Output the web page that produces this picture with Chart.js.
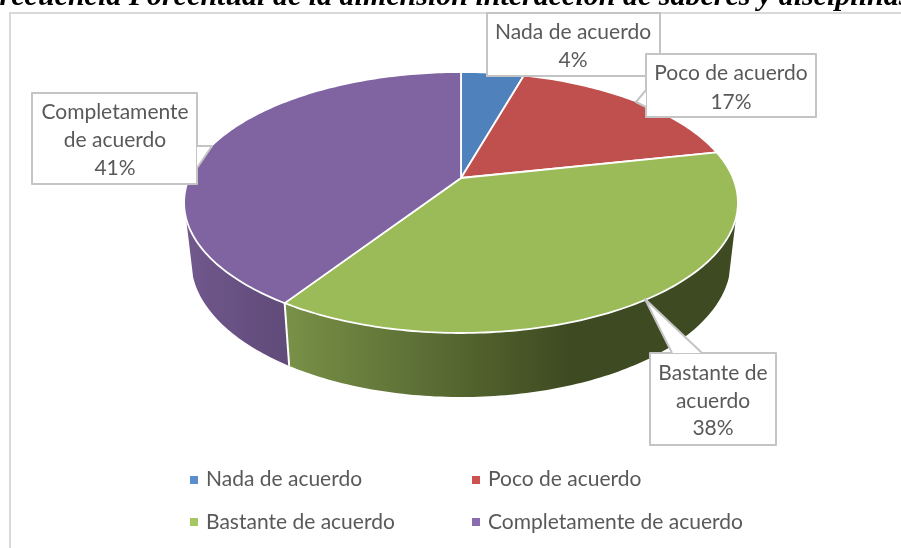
<!DOCTYPE html>
<html><head><meta charset="utf-8">
<style>html,body{margin:0;padding:0;background:#fff;overflow:hidden}#w{position:relative;width:901px;height:548px}canvas{display:block}</style>
<script src="https://cdn.jsdelivr.net/npm/chart.js@4"></script>
</head><body><div id="w"><canvas id="c" width="901" height="548"></canvas></div>
<script>
const titleText = "Frecuencia Porcentual de la dimensión interacción de saberes y disciplinas";
const categories = ["Nada de acuerdo","Poco de acuerdo","Bastante de acuerdo","Completamente de acuerdo"];
const percentages = [4.4,17.2,37.6,40.8];
const sliceColors = ["#4f81bd","#c0504d","#9bbb59","#8064a2"];
const legendColors = ["#5a8dcd","#cc5350","#a5c863","#8a6bb0"];
const calloutLines = [["Nada de acuerdo"],["Poco de acuerdo"],["Bastante de","acuerdo"],["Completamente","de acuerdo"]];

const INK="#595959", EDGE="#c4c4c4", FONT='"Lato","Open Sans",sans-serif';
const P={top:{k:272,a:125.9,cy:178},bot:{k:265,a:131.2,cy:235.5},c:-0.1877,front:0.3};
function proj(arc,ang,lvl){const u=Math.cos(ang),v=Math.sin(ang),d=1+P.c*v;
  return [arc.x+lvl.k*u/d, lvl.cy+lvl.a*v/d];}
function rim(ctx,arc,a0,a1,lvl,first){const n=Math.max(2,Math.ceil(Math.abs(a1-a0)*60));
  for(let i=0;i<=n;i++){const p=proj(arc,a0+(a1-a0)*i/n,lvl);
    (first&&i===0)?ctx.moveTo(p[0],p[1]):ctx.lineTo(p[0],p[1]);}}
const wallGrad={
  2:[292,570,[[0,"#778f46"],[1,"#3e4a21"]]],
  3:[190,292,[[0,"#70578c"],[1,"#5f4a78"]]]
};
const callouts=[
 {box:[487,13,173,63],cx:573,ys:[32,60]},
 {box:[646,54,170,63],cx:731,ys:[73,102],tail:[[646,90],[636,102],[646,107]]},
 {box:[650,353,126,92],cx:713,ys:[373,401,428],tail:[[672,353],[645,299],[702,353]]},
 {box:[32,93,165,91],cx:115,ys:[112,140,168],tail:[[197,146],[212,146],[197,168]]}
];
const pie3d={id:'pie3d',
 beforeDatasetsDraw(chart){
  const ctx=chart.ctx,arcs=chart.getDatasetMeta(0).data;
  ctx.save();
  ctx.strokeStyle="#d9d9d9";ctx.lineWidth=2;
  ctx.beginPath();ctx.moveTo(901,13);ctx.lineTo(10,13);ctx.lineTo(10,548);ctx.stroke();
  ctx.fillStyle="#000";ctx.font='italic bold 30px "Liberation Serif",serif';ctx.textAlign="center";ctx.textBaseline="alphabetic";
  ctx.fillText(titleText,445,5);
  const fa0=Math.asin(P.front),fa1=Math.PI-fa0;
  arcs.forEach((arc,i)=>{
    const a0=Math.max(arc.startAngle,fa0),a1=Math.min(arc.endAngle,fa1);
    if(a1<=a0)return;
    const g=wallGrad[i],gr=ctx.createLinearGradient(g[0],0,g[1],0);
    g[2].forEach(s=>gr.addColorStop(s[0],s[1]));
    ctx.fillStyle=gr;ctx.beginPath();
    rim(ctx,arc,a0,a1,P.top,true);rim(ctx,arc,a1,a0,P.bot,false);ctx.closePath();ctx.fill();
  });
  ctx.strokeStyle="#fff";ctx.lineWidth=2;
  arcs.forEach(arc=>{const a=arc.startAngle;
    if(a>fa0&&a<fa1){const p=proj(arc,a,P.top),q=proj(arc,a,P.bot);
      ctx.beginPath();ctx.moveTo(p[0],p[1]);ctx.lineTo(q[0],q[1]);ctx.stroke();}});
  arcs.forEach((arc,i)=>{
    ctx.fillStyle=arc.options.backgroundColor;ctx.strokeStyle="#fff";ctx.lineWidth=1.8;ctx.lineJoin="round";
    ctx.beginPath();ctx.moveTo(arc.x,P.top.cy);rim(ctx,arc,arc.startAngle,arc.endAngle,P.top,false);ctx.closePath();
    ctx.fill();ctx.stroke();
  });
  ctx.font='21px '+FONT;ctx.textAlign="center";ctx.textBaseline="middle";
  callouts.forEach((c,i)=>{
    const b=c.box;ctx.fillStyle="#fff";ctx.strokeStyle=EDGE;ctx.lineWidth=2;
    ctx.beginPath();ctx.rect(b[0],b[1],b[2],b[3]);ctx.fill();ctx.stroke();
    if(c.tail){const t=c.tail;ctx.beginPath();ctx.moveTo(t[0][0],t[0][1]);ctx.lineTo(t[1][0],t[1][1]);ctx.lineTo(t[2][0],t[2][1]);ctx.closePath();ctx.fill();
      ctx.beginPath();ctx.moveTo(t[0][0],t[0][1]);ctx.lineTo(t[1][0],t[1][1]);ctx.lineTo(t[2][0],t[2][1]);ctx.stroke();}
    ctx.fillStyle=INK;
    [...calloutLines[i],Math.round(percentages[i])+"%"].forEach((s,j)=>ctx.fillText(s,c.cx,c.ys[j]));
  });
  const pos=[[190,480,479],[472,480,479],[190,522,522],[472,522,522]];
  ctx.textAlign="left";
  categories.forEach((s,i)=>{const p=pos[i];
    ctx.fillStyle=legendColors[i];ctx.fillRect(p[0],p[1]-4,8,8);
    ctx.fillStyle=INK;ctx.fillText(s,p[0]+16,p[2]);});
  ctx.restore();
  return false;
 }
};
new Chart(document.getElementById('c'),{
 type:'pie',
 data:{labels:categories,datasets:[{data:percentages,backgroundColor:sliceColors,borderColor:"#fff",borderWidth:0}]},
 options:{responsive:false,animation:false,rotation:0,
  layout:{padding:{left:361,right:340,top:78,bottom:270}},
  plugins:{legend:{display:false},title:{display:false},tooltip:{enabled:false}}},
 plugins:[pie3d]
});
</script></body></html>
